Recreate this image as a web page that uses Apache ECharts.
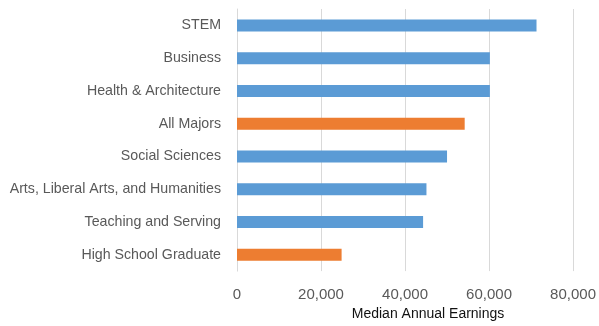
<!DOCTYPE html>
<html>
<head>
<meta charset="utf-8">
<script src="https://cdn.jsdelivr.net/npm/echarts@6/dist/echarts.min.js"></script>
<style>html,body{margin:0;padding:0;background:#fff}#c{width:599px;height:326px}</style>
</head>
<body>
<div id="c"></div>
<script>
const categories = ["STEM", "Business", "Health & Architecture", "All Majors", "Social Sciences", "Arts, Liberal Arts, and Humanities", "Teaching and Serving", "High School Graduate"];
const earnings = [71300, 60200, 60200, 54200, 50000, 45100, 44300, 24900];
const highlighted = ["All Majors", "High School Graduate"];
const xTicks = { min: 0, max: 80000, interval: 20000 };
const xAxisName = "Median Annual Earnings";

const chart = echarts.init(document.getElementById('c'), null, { renderer: 'canvas' });
const font = "Liberation Sans";
chart.setOption({
  animation: false,
  grid: { left: 237, right: 25, top: 9, bottom: 47, containLabel: false },
  xAxis: {
    type: 'value', min: xTicks.min, max: xTicks.max, interval: xTicks.interval,
    axisLine: { show: false }, axisTick: { show: false },
    splitLine: { lineStyle: { color: '#d9d9d9', width: 1 } },
    axisLabel: { color: '#595959', fontFamily: font, fontSize: 15, margin: 16,
      formatter: v => v.toLocaleString('en-US') },
    name: xAxisName, nameLocation: 'middle', nameGap: 35,
    nameTextStyle: { color: '#111', fontFamily: font, fontSize: 14, padding: [0, 0, 0, 46] }
  },
  yAxis: {
    type: 'category', data: categories, inverse: true,
    axisLine: { show: true, lineStyle: { color: '#d9d9d9', width: 1 } },
    axisTick: { show: false },
    axisLabel: { color: '#595959', fontFamily: font, fontSize: 14.2, margin: 16, padding: [3, 0, 0, 0] }
  },
  series: [{
    type: 'bar', data: earnings, barWidth: 12,
    itemStyle: { color: p => highlighted.includes(p.name) ? '#ed7d31' : '#5b9bd5' }
  }]
});
</script>
</body>
</html>
